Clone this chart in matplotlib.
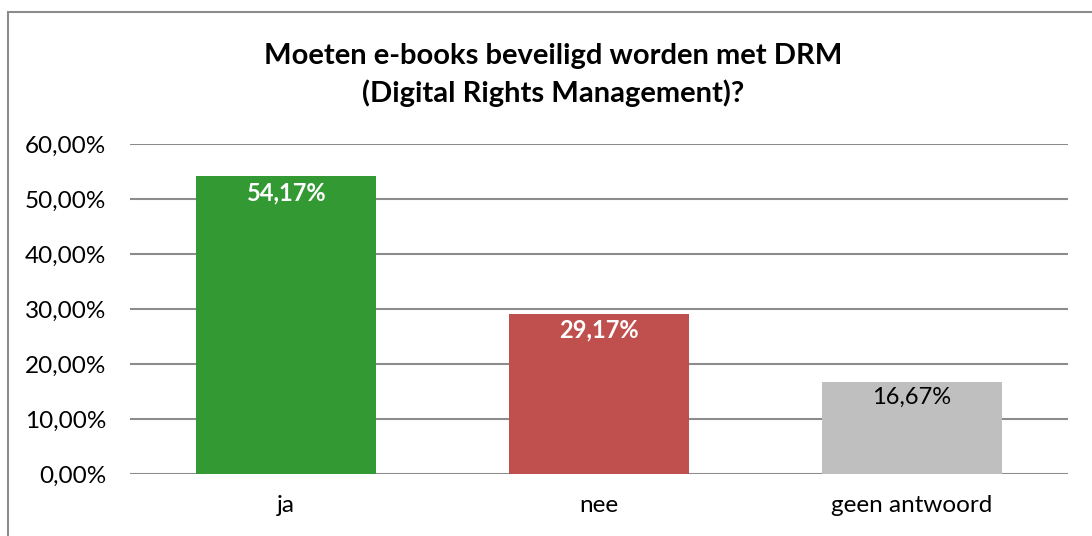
import matplotlib.pyplot as plt
from matplotlib.patches import Rectangle

categories = ['ja', 'nee', 'geen antwoord']
values = [54.17, 29.17, 16.67]
colors = ['#339933', '#C0504D', '#BFBFBF']
label_colors = ['white', 'white', 'black']
label_weights = ['bold', 'bold', 'normal']
yticks = [0, 10, 20, 30, 40, 50, 60]

plt.rcParams['font.family'] = ['Lato', 'DejaVu Sans']

fig = plt.figure(figsize=(10.92, 5.36), dpi=100)
ax = fig.add_axes([130 / 1092, 1 - 474 / 536, 938 / 1092, 330 / 536])

x = range(len(categories))
bars = ax.bar(x, values, width=0.575, color=colors, zorder=3)
for b, v, c, w in zip(bars, values, label_colors, label_weights):
    ax.text(b.get_x() + b.get_width() / 2, v - 0.9, f'{v:.2f}%'.replace('.', ','),
            ha='center', va='top', color=c, fontsize=17, fontweight=w, zorder=4)

ax.set_xlim(-0.5, 2.5)
ax.set_ylim(0, 60)
ax.set_yticks(yticks)
ax.set_yticklabels([f'{t:.2f}%'.replace('.', ',') for t in yticks], fontsize=17.5)
ax.set_xticks(list(x))
ax.set_xticklabels(categories, fontsize=17.5)
ax.tick_params(length=0)
ax.tick_params(axis='y', pad=17)
ax.tick_params(axis='x', pad=15)
ax.yaxis.grid(True, color='#8c8c8c', linewidth=1.5, zorder=0)
for s in ax.spines.values():
    s.set_visible(False)

fig.text(553 / 1092, 1 - 75 / 536,
         'Moeten e-books beveiligd worden met DRM\n(Digital Rights Management)?',
         ha='center', va='center', fontsize=21, fontweight='bold', linespacing=1.5)

fig.patches.append(Rectangle((8 / 1092, -0.1), 1.2, 1.1 - 12 / 536, transform=fig.transFigure,
                             fill=False, edgecolor='#8c8c8c', linewidth=1.5))

plt.savefig('out.png', dpi=100)
